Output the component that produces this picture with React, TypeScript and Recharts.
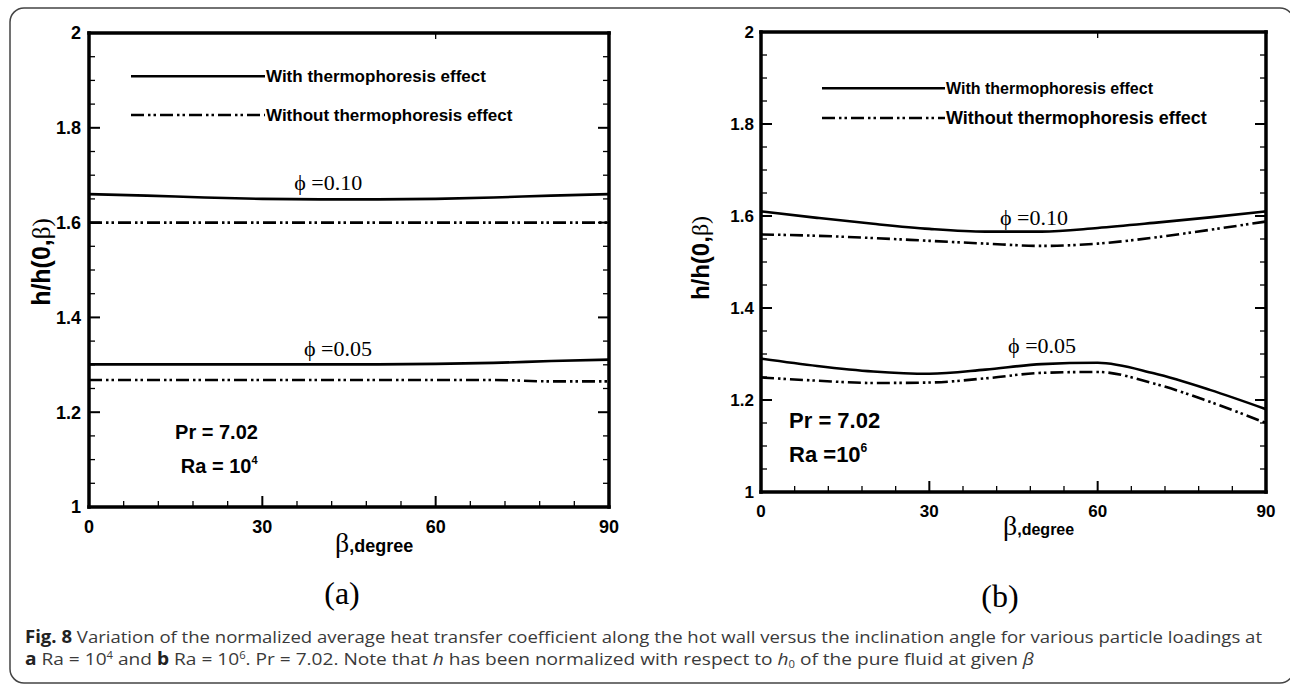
import React from 'react';
import { LineChart, Line, XAxis, YAxis, ReferenceDot } from 'recharts';

// ---------- data ----------
const betaDeg = [0, 10, 20, 30, 40, 50, 60, 70, 80, 90];

// panel (a) Ra = 10^4
const aWith010 = [1.66, 1.657, 1.653, 1.65, 1.649, 1.649, 1.65, 1.653, 1.657, 1.66];
const aWithout010 = [1.6, 1.6, 1.6, 1.6, 1.6, 1.6, 1.6, 1.6, 1.6, 1.6];
const aWith005 = [1.301, 1.301, 1.301, 1.301, 1.301, 1.301, 1.302, 1.304, 1.308, 1.311];
const aWithout005 = [1.268, 1.268, 1.268, 1.268, 1.268, 1.268, 1.268, 1.268, 1.265, 1.265];

// panel (b) Ra = 10^6
const bWith010 = [1.61, 1.596, 1.583, 1.572, 1.566, 1.566, 1.574, 1.585, 1.597, 1.61];
const bWithout010 = [1.56, 1.557, 1.552, 1.546, 1.54, 1.535, 1.54, 1.553, 1.57, 1.588];
const bWith005 = [1.29, 1.274, 1.262, 1.257, 1.266, 1.278, 1.281, 1.258, 1.222, 1.18];
const bWithout005 = [1.249, 1.242, 1.237, 1.238, 1.247, 1.259, 1.261, 1.236, 1.196, 1.15];

const xMajorTicks = [0, 30, 60, 90];
const xMinorTicks = [6, 12, 18, 24, 36, 42, 48, 54, 66, 72, 78, 84];
const yMajorTicks = [1, 1.2, 1.4, 1.6, 1.8, 2];
const yMinorTicks = [1.05, 1.1, 1.15, 1.25, 1.3, 1.35, 1.45, 1.5, 1.55, 1.65, 1.7, 1.75, 1.85, 1.9, 1.95];
const xAllTicks = [...xMajorTicks, ...xMinorTicks];
const yAllTicks = [...yMajorTicks, ...yMinorTicks];

const legendWith = 'With thermophoresis effect';
const legendWithout = 'Without thermophoresis effect';
const phiLabel010 = 'ϕ =0.10';
const phiLabel005 = 'ϕ =0.05';

const makeRows = (w1: number[], wo1: number[], w2: number[], wo2: number[]) =>
  betaDeg.map((b, i) => ({ beta: b, with010: w1[i], without010: wo1[i], with005: w2[i], without005: wo2[i] }));

const dataA = makeRows(aWith010, aWithout010, aWith005, aWithout005);
const dataB = makeRows(bWith010, bWithout010, bWith005, bWithout005);

// ---------- styles ----------
const SANS = "'Liberation Sans', Arial, sans-serif";
const SERIF = "'Liberation Serif', 'Times New Roman', serif";
const CAPTION_FONT = "'Open Sans', 'Noto Sans', sans-serif";
const DASH = '13 4 2.5 3 2.5 4';
const TINY = 0.01;
const MAJOR_LEN = 11;
const MINOR_LEN = 6;

type Cfg = {
  left: number;
  margin: { top: number; right: number; bottom: number; left: number };
  tickFont: number;
  xTickMargin: number;
  yTickMargin: number;
  legendLen: number;
  legendFont1: number;
  legendFont2: number;
  legend1: [number, number];
  legend2: [number, number];
  phi010: [number, number];
  phi005: [number, number];
  pr: [number, number];
  ra: [number, number];
  raText: string;
  raSup: string;
  prFont: number;
  yLabelFont: number;
  yLabelDx: number;
  yLabelDy: number;
  betaDx: number;
  betaDy: number;
  betaFont: number;
  degreeFont: number;
  panelDx: number;
  panelDy: number;
  panelName: string;
};

const cfgA: Cfg = {
  left: 0,
  margin: { top: 33, right: 36, bottom: 148, left: 59 },
  tickFont: 18,
  xTickMargin: 13,
  yTickMargin: 8,
  legendLen: 134,
  legendFont1: 17,
  legendFont2: 17,
  legend1: [7.27, 1.909],
  legend2: [7.27, 1.827],
  phi010: [41.4, 1.669],
  phi005: [43.1, 1.319],
  pr: [14.9, 1.1435],
  ra: [15.9, 1.0717],
  raText: 'Ra = 10',
  raSup: '4',
  prFont: 20,
  yLabelFont: 25,
  yLabelDx: -18,
  yLabelDy: -8,
  betaDx: -14,
  betaDy: 45,
  betaFont: 28,
  degreeFont: 18,
  panelDx: -7,
  panelDy: 97,
  panelName: '(a)',
};

const cfgB: Cfg = {
  left: 645,
  margin: { top: 32, right: 24, bottom: 163, left: 86 },
  tickFont: 17,
  xTickMargin: 13,
  yTickMargin: 7,
  legendLen: 123,
  legendFont1: 16,
  legendFont2: 18,
  legend1: [10.87, 1.878],
  legend2: [10.87, 1.813],
  phi010: [48.65, 1.5804],
  phi005: [50.1, 1.3022],
  pr: [5.0, 1.139],
  ra: [5.0, 1.0652],
  raText: 'Ra =10',
  raSup: '6',
  prFont: 22,
  yLabelFont: 24,
  yLabelDx: -31,
  yLabelDy: -4,
  betaDx: -10.5,
  betaDy: 43,
  betaFont: 28,
  degreeFont: 16,
  panelDx: -13.5,
  panelDy: 115,
  panelName: '(b)',
};

const axisLineStyle = { stroke: '#000', strokeWidth: 3.5, strokeLinecap: 'square' as const };

// custom inward tick (+ optional label) renderers
const makeXTick = (side: 'bottom' | 'top', withLabel: boolean, cfg: Cfg) => (p: any) => {
  const v = p.payload ? p.payload.value : 0;
  const major = xMajorTicks.includes(v);
  const len = major ? MAJOR_LEN : MINOR_LEN;
  const dir = side === 'bottom' ? -1 : 1;
  return (
    <g>
      <line x1={p.x} x2={p.x} y1={p.y} y2={p.y + dir * len} stroke="#000" strokeWidth={major ? 2 : 1.3} />
      {withLabel && major ? (
        <text
          x={p.x}
          y={p.y + cfg.xTickMargin}
          dy="0.71em"
          textAnchor="middle"
          fontFamily={SANS}
          fontWeight="bold"
          fontSize={cfg.tickFont}
          fill="#000"
        >
          {v}
        </text>
      ) : null}
    </g>
  );
};

const makeYTick = (side: 'left' | 'right', withLabel: boolean, cfg: Cfg) => (p: any) => {
  const v = p.payload ? p.payload.value : 0;
  const major = yMajorTicks.includes(v);
  const len = major ? MAJOR_LEN : MINOR_LEN;
  const dir = side === 'left' ? 1 : -1;
  return (
    <g>
      <line x1={p.x} x2={p.x + dir * len} y1={p.y} y2={p.y} stroke="#000" strokeWidth={major ? 2 : 1.3} />
      {withLabel && major ? (
        <text
          x={p.x - cfg.yTickMargin}
          y={p.y}
          dy="0.355em"
          textAnchor="end"
          fontFamily={SANS}
          fontWeight="bold"
          fontSize={cfg.tickFont}
          fill="#000"
        >
          {v}
        </text>
      ) : null}
    </g>
  );
};

function Panel({ cfg, data }: { cfg: Cfg; data: any[] }) {
  const xLabel = (p: any) => {
    const vb = p.viewBox || {};
    const cx = vb.x + vb.width / 2;
    return (
      <g>
        <text x={cx + cfg.betaDx} y={vb.y + cfg.betaDy} fill="#000">
          <tspan fontFamily={SERIF} fontSize={cfg.betaFont}>β</tspan>
          <tspan fontFamily={SANS} fontWeight="bold" fontSize={cfg.degreeFont}>,degree</tspan>
        </text>
        <text x={cx + cfg.panelDx} y={vb.y + cfg.panelDy} fontFamily={SERIF} fontSize={32} textAnchor="middle" fill="#000">
          {cfg.panelName}
        </text>
      </g>
    );
  };

  const yLabel = (p: any) => {
    const vb = p.viewBox || {};
    const cx = vb.x + cfg.yLabelDx;
    const cy = vb.y + vb.height / 2 + cfg.yLabelDy;
    return (
      <text
        x={cx}
        y={cy}
        transform={`rotate(-90 ${cx} ${cy})`}
        textAnchor="middle"
        dominantBaseline="central"
        fill="#000"
      >
        <tspan fontFamily={SANS} fontWeight="bold" fontSize={cfg.yLabelFont}>h/h(0,</tspan>
        <tspan fontFamily={SERIF} fontSize={cfg.yLabelFont}>β)</tspan>
      </text>
    );
  };

  const legendShape = (text: string, dashed: boolean, fs: number) => (p: any) => (
    <g>
      <line
        x1={p.cx}
        y1={p.cy}
        x2={p.cx + cfg.legendLen}
        y2={p.cy}
        stroke="#000"
        strokeWidth={2.5}
        strokeDasharray={dashed ? DASH : undefined}
      />
      <text
        x={p.cx + cfg.legendLen + 1}
        y={p.cy}
        dominantBaseline="central"
        fontFamily={SANS}
        fontWeight="bold"
        fontSize={fs}
        fill="#000"
      >
        {text}
      </text>
    </g>
  );

  const phiShape = (text: string) => (p: any) => (
    <text x={p.cx} y={p.cy} textAnchor="middle" fontFamily={SERIF} fontSize={22} fill="#000">
      {text}
    </text>
  );

  const prShape = (p: any) => (
    <text x={p.cx} y={p.cy} fontFamily={SANS} fontWeight="bold" fontSize={cfg.prFont} fill="#000">
      Pr = 7.02
    </text>
  );

  const raShape = (p: any) => (
    <text x={p.cx} y={p.cy} fontFamily={SANS} fontWeight="bold" fontSize={cfg.prFont} fill="#000">
      {cfg.raText}
      <tspan fontSize={cfg.prFont * 0.55} dy={-cfg.prFont * 0.45}>{cfg.raSup}</tspan>
    </text>
  );

  const commonX = { type: 'number' as const, domain: [0, 90], allowDataOverflow: true, interval: 0 as const, tickLine: false, tickSize: 0, tickMargin: 0 };
  const commonY = { type: 'number' as const, domain: [1, 2], allowDataOverflow: true, interval: 0 as const, tickLine: false, tickSize: 0, tickMargin: 0 };

  return (
    <div style={{ position: 'absolute', left: cfg.left, top: 0 }}>
      <LineChart width={645} height={685} data={data} margin={cfg.margin}>
        <XAxis
          xAxisId="x"
          dataKey="beta"
          {...commonX}
          orientation="bottom"
          ticks={xAllTicks}
          height={30}
          axisLine={axisLineStyle}
          tick={makeXTick('bottom', true, cfg)}
          label={{ content: xLabel }}
        />
        <XAxis
          xAxisId="xt"
          {...commonX}
          orientation="top"
          ticks={xAllTicks}
          height={TINY}
          axisLine={axisLineStyle}
          tick={makeXTick('top', false, cfg)}
        />
        <YAxis
          yAxisId="y"
          {...commonY}
          orientation="left"
          ticks={yAllTicks}
          width={30}
          axisLine={axisLineStyle}
          tick={makeYTick('left', true, cfg)}
          label={{ content: yLabel }}
        />
        <YAxis
          yAxisId="yr"
          {...commonY}
          orientation="right"
          ticks={yAllTicks}
          width={TINY}
          axisLine={axisLineStyle}
          tick={makeYTick('right', false, cfg)}
        />

        <Line xAxisId="x" yAxisId="y" type="monotone" dataKey="with010" stroke="#000" strokeWidth={2.6} dot={false} isAnimationActive={false} />
        <Line xAxisId="x" yAxisId="y" type="monotone" dataKey="without010" stroke="#000" strokeWidth={2.6} strokeDasharray={DASH} dot={false} isAnimationActive={false} />
        <Line xAxisId="x" yAxisId="y" type="monotone" dataKey="with005" stroke="#000" strokeWidth={2.6} dot={false} isAnimationActive={false} />
        <Line xAxisId="x" yAxisId="y" type="monotone" dataKey="without005" stroke="#000" strokeWidth={2.6} strokeDasharray={DASH} dot={false} isAnimationActive={false} />

        <ReferenceDot xAxisId="x" yAxisId="y" x={cfg.legend1[0]} y={cfg.legend1[1]} r={0} shape={legendShape(legendWith, false, cfg.legendFont1)} />
        <ReferenceDot xAxisId="x" yAxisId="y" x={cfg.legend2[0]} y={cfg.legend2[1]} r={0} shape={legendShape(legendWithout, true, cfg.legendFont2)} />
        <ReferenceDot xAxisId="x" yAxisId="y" x={cfg.phi010[0]} y={cfg.phi010[1]} r={0} shape={phiShape(phiLabel010)} />
        <ReferenceDot xAxisId="x" yAxisId="y" x={cfg.phi005[0]} y={cfg.phi005[1]} r={0} shape={phiShape(phiLabel005)} />
        <ReferenceDot xAxisId="x" yAxisId="y" x={cfg.pr[0]} y={cfg.pr[1]} r={0} shape={prShape} />
        <ReferenceDot xAxisId="x" yAxisId="y" x={cfg.ra[0]} y={cfg.ra[1]} r={0} shape={raShape} />
      </LineChart>
    </div>
  );
}

function Caption() {
  return (
    <svg width={1290} height={685} style={{ position: 'absolute', left: 0, top: 0 }}>
      <rect x={10} y={8} width={1284} height={675} rx={14} ry={14} fill="none" stroke="#444" strokeWidth={1.5} />
      <text x={25} y={643} fontFamily={CAPTION_FONT} fontSize={17} fill="#3a3a3a" textLength={1237} lengthAdjust="spacingAndGlyphs">
        <tspan fontWeight="bold" fill="#222">Fig. 8</tspan>
        <tspan> Variation of the normalized average heat transfer coefficient along the hot wall versus the inclination angle for various particle loadings at</tspan>
      </text>
      <text x={25} y={665} fontFamily={CAPTION_FONT} fontSize={17} fill="#3a3a3a" textLength={1009} lengthAdjust="spacingAndGlyphs">
        <tspan fontWeight="bold" fill="#222">a</tspan>
        <tspan> Ra = 10</tspan>
        <tspan fontSize={10} dy={-6}>4</tspan>
        <tspan dy={6}> and </tspan>
        <tspan fontWeight="bold" fill="#222">b</tspan>
        <tspan> Ra = 10</tspan>
        <tspan fontSize={10} dy={-6}>6</tspan>
        <tspan dy={6}>. Pr = 7.02. Note that </tspan>
        <tspan fontStyle="italic">h</tspan>
        <tspan> has been normalized with respect to </tspan>
        <tspan fontStyle="italic">h</tspan>
        <tspan fontSize={10} dy={3}>0</tspan>
        <tspan dy={-3}> of the pure fluid at given </tspan>
        <tspan fontStyle="italic">β</tspan>
      </text>
    </svg>
  );
}

export default function App() {
  return (
    <div style={{ position: 'absolute', left: 0, top: 0, width: 1290, height: 685, background: '#fff', overflow: 'hidden' }}>
      <Caption />
      <Panel cfg={cfgA} data={dataA} />
      <Panel cfg={cfgB} data={dataB} />
    </div>
  );
}
